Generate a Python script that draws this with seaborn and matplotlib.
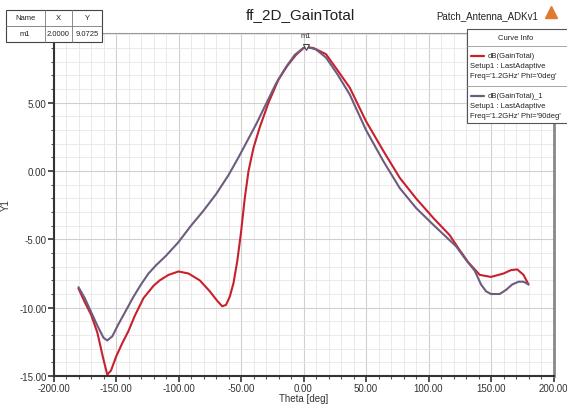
import numpy as np
import pandas as pd
import matplotlib
matplotlib.use("Agg")
import matplotlib.pyplot as plt
import seaborn as sns
from matplotlib.patches import Rectangle
from matplotlib.lines import Line2D

# ---- data ----
theta_phi0 = [-180, -175, -170, -165, -160, -157, -154, -150, -145, -140, -135, -128, -120, -115,
              -108, -100, -92, -83, -75, -69, -65, -62, -59, -56, -53, -50, -47, -44, -40, -35,
              -28, -20, -13, -6, 0, 2, 8, 18, 27, 37, 50, 64, 77, 90, 104, 117, 125, 132, 137,
              141, 150, 160, 166, 171, 176, 180]
gain_phi0 = [-8.6, -9.6, -10.5, -11.8, -13.8, -14.9, -14.6, -13.6, -12.6, -11.7, -10.6, -9.3, -8.4, -8.0,
             -7.6, -7.35, -7.5, -8.0, -8.8, -9.5, -9.9, -9.8, -9.2, -8.2, -6.6, -4.5, -2.0, 0.0, 1.7, 3.2,
             5.0, 6.7, 7.7, 8.5, 9.0, 9.07, 9.0, 8.55, 7.4, 6.1, 3.65, 1.45, -0.5, -2.0, -3.45, -4.7, -5.8,
             -6.7, -7.2, -7.6, -7.75, -7.5, -7.25, -7.2, -7.6, -8.3]

theta_phi90 = [-180, -175, -170, -165, -160, -157, -153, -148, -142, -136, -130, -124, -118, -110,
               -100, -90, -80, -70, -60, -52, -45, -38, -30, -22, -14, -7, 0, 3, 10, 18, 27, 37, 50,
               64, 77, 90, 104, 115, 122, 130, 137, 142, 146, 150, 157, 162, 167, 172, 176, 180]
gain_phi90 = [-8.5, -9.3, -10.3, -11.3, -12.2, -12.4, -12.1, -11.2, -10.2, -9.2, -8.3, -7.5, -6.9, -6.2,
              -5.2, -4.0, -2.9, -1.7, -0.3, 1.0, 2.2, 3.4, 4.9, 6.4, 7.6, 8.5, 9.0, 9.07, 8.9, 8.3, 7.1,
              5.6, 3.0, 0.7, -1.25, -2.7, -3.95, -4.9, -5.5, -6.5, -7.3, -8.3, -8.8, -9.0, -9.0, -8.7,
              -8.3, -8.1, -8.1, -8.3]

series_names = ["dB(GainTotal)", "dB(GainTotal)_1"]
series_colors = ["#c8202c", "#6e5c7e"]
x_ticks = [-200, -150, -100, -50, 0, 50, 100, 150, 200]
y_ticks = [-15, -10, -5, 0, 5]
marker_x, marker_y = 2.0, 9.0725

df = pd.concat([
    pd.DataFrame({"theta": theta_phi0, "gain": gain_phi0, "curve": series_names[0]}),
    pd.DataFrame({"theta": theta_phi90, "gain": gain_phi90, "curve": series_names[1]}),
])

sns.set_theme(style="white")
plt.rcParams["font.family"] = ["Liberation Sans", "DejaVu Sans"]

W, H = 567, 406
fig = plt.figure(figsize=(W / 100, H / 100), dpi=100)
ax = fig.add_axes([53.5 / W, 1 - 377 / H, 500 / W, (377 - 34) / H])

sns.lineplot(data=df, x="theta", y="gain", hue="curve", palette=series_colors,
             sort=False, linewidth=1.5, legend=False, ax=ax)

ax.set_xlim(-200, 200)
ax.set_ylim(-15, 10.1)
ax.set_xticks(x_ticks)
ax.set_xticklabels([f"{v:.2f}" for v in x_ticks], fontsize=7, color="#333333")
ax.set_yticks(y_ticks)
ax.set_yticklabels([f"{v:.2f}" for v in y_ticks], fontsize=7, color="#333333")
ax.set_xticks(np.arange(-200, 201, 10), minor=True)
ax.set_yticks(np.arange(-15, 10.1, 1), minor=True)
ax.tick_params(which="major", direction="out", length=4, width=1.2, color="#333333", pad=1,
               bottom=True, left=True)
ax.tick_params(which="minor", direction="out", length=2, width=0.8, color="#555555",
               bottom=True, left=True)
ax.grid(which="major", color="#d0d0d0", linewidth=0.8)
ax.grid(which="minor", color="#e6e6e6", linewidth=0.6)
ax.set_axisbelow(True)
for s in ["left", "bottom"]:
    ax.spines[s].set_color("#333333")
    ax.spines[s].set_linewidth(1.5)
ax.spines["right"].set_color("#888888")
ax.spines["right"].set_linewidth(2)
ax.spines["top"].set_color("#999999")
ax.spines["top"].set_linewidth(0.8)

ax.set_xlabel("Theta [deg]", fontsize=7, labelpad=0, color="#333333")
ax.set_ylabel("Y1", fontsize=7, labelpad=6, color="#333333")

# marker m1
ax.plot([marker_x], [marker_y], marker="v", markersize=4, markerfacecolor="white",
        markeredgecolor="#444444", markeredgewidth=0.8, zorder=5)
ax.annotate("m1", (marker_x, marker_y), xytext=(0, 6), textcoords="offset points",
            ha="center", va="bottom", fontsize=5.5, color="#333333")

# titles
fig.text(300 / W, 1 - 15 / H, "ff_2D_GainTotal", ha="center", va="center", fontsize=11,
         color="#222222")
fig.text(487 / W, 1 - 16 / H, "Patch_Antenna_ADKv1", ha="center", va="center", fontsize=7,
         color="#222222")
fig.lines.append(Line2D([551 / W], [1 - 13 / H], marker="^", markersize=8, color="#e07a30",
                        transform=fig.transFigure, figure=fig))

# name table
def fx(px):
    return px / W
def fy(py):
    return 1 - py / H

tab = Rectangle((fx(6), fy(43)), (102 - 6) / W, (43 - 11) / H, transform=fig.transFigure,
                facecolor="white", edgecolor="#444444", linewidth=0.8, zorder=10)
fig.patches.append(tab)
for x0, x1, y0, y1 in [(6, 102, 27, 27), (45, 45, 11, 43), (72, 72, 11, 43)]:
    fig.lines.append(Line2D([fx(x0), fx(x1)], [fy(y0), fy(y1)], transform=fig.transFigure,
                            color="#777777", linewidth=0.6, zorder=11))
for txt, cx, cy in [("Name", 25, 19), ("X", 58, 19), ("Y", 87, 19),
                    ("m1", 25, 35), ("2.0000", 58.5, 35), ("9.0725", 87, 35)]:
    fig.text(fx(cx), fy(cy), txt, ha="center", va="center", fontsize=5.5, color="#222222",
             zorder=12)

# curve info legend
leg = Rectangle((fx(467), fy(124)), (570 - 467) / W, (124 - 30) / H, transform=fig.transFigure,
                facecolor="white", edgecolor="#555555", linewidth=0.8, zorder=10)
fig.patches.append(leg)
for yy in [47, 87]:
    fig.lines.append(Line2D([fx(467), fx(567)], [fy(yy), fy(yy)], transform=fig.transFigure,
                            color="#999999", linewidth=0.6, zorder=11))
fig.text(fx(516), fy(39), "Curve Info", ha="center", va="center", fontsize=5.5,
         color="#222222", zorder=12)
entries = [(series_names[0], "Freq='1.2GHz' Phi='0deg'", 57),
           (series_names[1], "Freq='1.2GHz' Phi='90deg'", 97)]
for (name, freq, y0), col in zip(entries, series_colors):
    fig.lines.append(Line2D([fx(471), fx(484)], [fy(y0), fy(y0)], transform=fig.transFigure,
                            color=col, linewidth=1.6, zorder=11))
    fig.text(fx(488), fy(y0), name, ha="left", va="center", fontsize=5.5, color="#222222",
             zorder=12)
    fig.text(fx(470), fy(y0 + 10), "Setup1 : LastAdaptive", ha="left", va="center",
             fontsize=5.5, color="#222222", zorder=12)
    fig.text(fx(470), fy(y0 + 20), freq, ha="left", va="center", fontsize=5.5,
             color="#222222", zorder=12)

fig.savefig("out.png", dpi=100)
